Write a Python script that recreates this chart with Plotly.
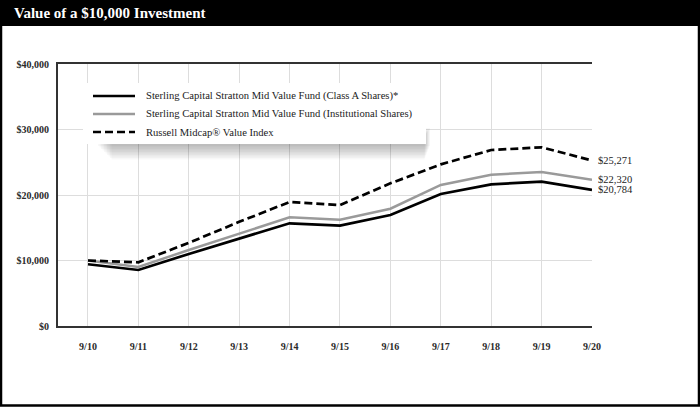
import plotly.graph_objects as go

categories = ["9/10", "9/11", "9/12", "9/13", "9/14", "9/15", "9/16", "9/17", "9/18", "9/19", "9/20"]
class_a = [9425, 8550, 11000, 13350, 15680, 15320, 16950, 20150, 21630, 22030, 20784]
institutional = [10000, 9010, 11600, 14100, 16590, 16230, 17910, 21530, 23100, 23510, 22320]
russell = [10000, 9720, 12700, 15900, 18930, 18470, 21780, 24680, 26870, 27280, 25271]
y_ticks = [0, 10000, 20000, 30000, 40000]
y_tick_text = ["$0", "$10,000", "$20,000", "$30,000", "$40,000"]
names = [
    "Sterling Capital Stratton Mid Value Fund (Class A Shares)*",
    "Sterling Capital Stratton Mid Value Fund (Institutional Shares)",
    "Russell Midcap® Value Index",
]
end_labels = ["$20,784", "$22,320", "$25,271"]

FONT = "Liberation Serif"
W, H = 700, 407
L, R, T, B = 58, 592, 64, 326

def px(x):
    return (x - L) / (R - L)

def py(y):
    return (B - y) / (B - T)

styles = [
    dict(color="#000000", width=2.7),
    dict(color="#9a9a9a", width=2.5),
    dict(color="#000000", width=2.7, dash="8px,4px"),
]

xi = list(range(len(categories)))
fig = go.Figure()
for series, name, st in zip([class_a, institutional, russell], names, styles):
    fig.add_trace(go.Scatter(x=xi, y=series, mode="lines", name=name, line=st,
                             showlegend=False))

shapes = []
annotations = []
# legend shadow (soft gradient below the box)
for i in range(10):
    shapes.append(dict(type="rect", xref="paper", yref="paper",
                       x0=px(98 + i * 1.5), x1=px(430 - i * 0.6),
                       y0=py(146 + i * 1.5), y1=py(128 + i),
                       fillcolor="rgba(0,0,0,0.028)", line=dict(width=0), layer="above"))
# legend box
shapes.append(dict(type="rect", xref="paper", yref="paper", x0=px(83), x1=px(426),
                   y0=py(144), y1=py(83), fillcolor="#ffffff", line=dict(width=0), layer="above"))
rows = [96, 114, 132]
for name, st, ry in zip(names, styles, rows):
    shapes.append(dict(type="line", xref="paper", yref="paper", x0=px(93), x1=px(135),
                       y0=py(ry), y1=py(ry), line=st, layer="above"))
    annotations.append(dict(text=name, xref="paper", yref="paper", x=px(144), y=py(ry),
                            xanchor="left", yanchor="middle", showarrow=False,
                            font=dict(family=FONT, size=10.6, color="#222222")))
# title bar
shapes.append(dict(type="rect", xref="paper", yref="paper", x0=px(0), x1=px(700),
                   y0=py(26), y1=py(0), fillcolor="#000000", line=dict(width=0), layer="above"))
# outer frame
shapes.append(dict(type="rect", xref="paper", yref="paper", x0=px(1), x1=px(699),
                   y0=py(405.5), y1=py(1), line=dict(color="#000000", width=2.5), layer="above"))

annotations.append(dict(text="<b>Value of a $10,000 Investment</b>", xref="paper", yref="paper",
                        x=px(12), y=py(13), xanchor="left", yanchor="middle", showarrow=False,
                        font=dict(family=FONT, size=15, color="#ffffff")))
for val, lab in zip([class_a[-1], institutional[-1], russell[-1]], end_labels):
    annotations.append(dict(text=lab, x=xi[-1], y=val, xref="x", yref="y", xanchor="left",
                            yanchor="middle", xshift=4, showarrow=False,
                            font=dict(family=FONT, size=10.5, color="#222222")))

tickfont = dict(family=FONT, size=10, color="#2a2a2a", weight="bold")
fig.update_layout(
    width=W, height=H,
    margin=dict(l=L, r=W - R, t=T, b=H - B),
    paper_bgcolor="#ffffff", plot_bgcolor="#ffffff",
    font=dict(family=FONT, color="#222222"),
    showlegend=False,
    shapes=shapes, annotations=annotations,
    xaxis=dict(range=[-0.595, 10], tickvals=xi, ticktext=categories, showgrid=True,
               gridcolor="#dddddd", gridwidth=1, showline=True, mirror=True,
               linecolor="#333333", linewidth=2, ticks="outside", ticklen=10,
               tickcolor="rgba(0,0,0,0)", zeroline=False, tickfont=tickfont),
    yaxis=dict(range=[0, 40000], tickvals=y_ticks, ticktext=y_tick_text, showgrid=True,
               gridcolor="#dddddd", gridwidth=1, showline=True, linecolor="#333333",
               linewidth=2, ticks="outside", ticklen=5, tickcolor="rgba(0,0,0,0)",
               zeroline=False, tickfont=tickfont),
)
fig.write_html("out.html", config={"displayModeBar": False},
               post_script="document.body.style.margin='0px';")
